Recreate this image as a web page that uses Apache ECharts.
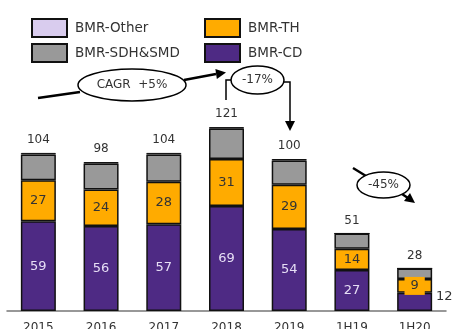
<!DOCTYPE html>
<html>
<head>
<meta charset="utf-8">
<script src="https://cdn.jsdelivr.net/npm/echarts@6/dist/echarts.min.js"></script>
<style>
  html, body { margin: 0; padding: 0; background: #fff; }
  #chart { width: 457px; height: 329px; }
</style>
</head>
<body>
<div id="chart"></div>
<script>
// data
var categories = ['2015', '2016', '2017', '2018', '2019', '1H19', '1H20'];
var bmrCD = [59, 56, 57, 69, 54, 27, 12];
var bmrTH = [27, 24, 28, 31, 29, 14, 9];
var bmrSDH = [17, 17, 18, 20, 16, 10, 7];
var bmrOther = [1, 1, 1, 1, 1, 0, 0];
var totals = [104, 98, 104, 121, 100, 51, 28];

var FONT = 'DejaVu Sans';
var border = { borderColor: '#111', borderWidth: 1.5 };

function legendAt(name, left, top) {
  return {
    data: [name], left: left, top: top, icon: 'rect', itemWidth: 35, itemHeight: 18, itemGap: 0,
    textStyle: { fontFamily: FONT, fontSize: 13.5, color: '#333', padding: [0, 0, 0, 3] },
    selectedMode: false
  };
}

function arrowLine(x1, y1, x2, y2) {
  return {
    type: 'line',
    shape: { x1: x1, y1: y1, x2: x2, y2: y2 },
    style: { stroke: '#000', lineWidth: 2.5 }
  };
}
function arrowHead(x, y, angle) {
  // small triangle pointing along angle (radians)
  var len = 10, w = 5;
  var bx = x - len * Math.cos(angle), by = y - len * Math.sin(angle);
  var px = -Math.sin(angle) * w, py = Math.cos(angle) * w;
  return {
    type: 'polygon',
    shape: { points: [[x, y], [bx + px, by + py], [bx - px, by - py]] },
    style: { fill: '#000' }
  };
}
function bubble(cx, cy, rx, ry, text) {
  return {
    type: 'group',
    children: [
      { type: 'ellipse', shape: { cx: cx, cy: cy, rx: rx, ry: ry },
        style: { fill: '#fff', stroke: '#000', lineWidth: 1.5 } },
      { type: 'text', x: cx, y: cy,
        style: { text: text, fontFamily: FONT, fontSize: 12, fill: '#333', align: 'center', verticalAlign: 'middle' } }
    ]
  };
}

var chart = echarts.init(document.getElementById('chart'));
var option = {
  animation: false,
  legend: [
    legendAt('BMR-Other', 26, 13),
    legendAt('BMR-TH', 199, 13),
    legendAt('BMR-SDH&SMD', 26, 38),
    legendAt('BMR-CD', 199, 38)
  ],
  grid: { left: 7, right: 11, top: 113.4, bottom: 18, containLabel: false, outerBoundsMode: 'none' },
  xAxis: {
    type: 'category',
    data: categories,
    axisLine: { lineStyle: { color: '#777', width: 1.5 } },
    axisTick: { show: false },
    axisLabel: { fontFamily: FONT, fontSize: 12, color: '#333', margin: 11 }
  },
  yAxis: { type: 'value', min: 0, max: 130, show: false, splitLine: { show: false } },
  series: [
    {
      name: 'BMR-CD', type: 'bar', stack: 'a', barWidth: 35,
      itemStyle: Object.assign({ color: '#4e2a84' }, border),
      label: { show: true, position: 'inside', fontFamily: FONT, fontSize: 13, color: '#e6def5',
        formatter: function (p) { return p.dataIndex === 6 ? '' : p.value; } },
      data: bmrCD
    },
    {
      name: 'BMR-TH', type: 'bar', stack: 'a',
      itemStyle: Object.assign({ color: '#ffab00' }, border),
      label: { show: true, position: 'inside', fontFamily: FONT, fontSize: 13, color: '#333' },
      data: bmrTH.map(function (v, i) {
        if (i === 6) {
          return { value: v, label: { backgroundColor: '#ffab00', padding: [3, 6, 2, 6] } };
        }
        return v;
      })
    },
    {
      name: 'BMR-SDH&SMD', type: 'bar', stack: 'a',
      itemStyle: Object.assign({ color: '#999999' }, border),
      data: bmrSDH
    },
    {
      name: 'BMR-Other', type: 'bar', stack: 'a',
      itemStyle: { color: '#d9ccee', borderColor: '#111', borderWidth: 1 },
      data: bmrOther
    },
    {
      name: 'total', type: 'bar', stack: 'a',
      itemStyle: { color: 'transparent', borderWidth: 0 },
      label: { show: true, position: 'top', distance: 7, fontFamily: FONT, fontSize: 12, color: '#333',
        formatter: function (p) { return totals[p.dataIndex]; } },
      data: totals.map(function () { return 0; })
    }
  ],
  graphic: [
    // CAGR arrow
    arrowLine(38, 98, 80, 92),
    arrowLine(184, 80, 216, 74),
    arrowHead(226, 72.5, Math.atan2(-1.5, 10)),
    bubble(132, 85, 54, 16, 'CAGR  +5%'),
    // -17% bracket
    { type: 'polyline', shape: { points: [[226, 100], [226, 80], [232, 80]] }, style: { stroke: '#000', lineWidth: 1.5, fill: null } },
    { type: 'polyline', shape: { points: [[283, 82], [290, 82], [290, 122]] }, style: { stroke: '#000', lineWidth: 1.5, fill: null } },
    arrowHead(290, 131, Math.PI / 2),
    bubble(257.5, 80, 26.5, 14, '-17%'),
    // -45% arrow
    arrowLine(353, 168, 366, 176),
    arrowLine(402, 194, 408, 198),
    arrowHead(415, 203, Math.atan2(6, 8)),
    bubble(383.5, 185, 26.5, 13, '-45%'),
    // 1H20 CD label outside the bar
    { type: 'line', shape: { x1: 422, y1: 304, x2: 430, y2: 298 }, style: { stroke: '#333', lineWidth: 1 } },
    { type: 'text', x: 436, y: 297, style: { text: '12', fontFamily: FONT, fontSize: 13, fill: '#333', verticalAlign: 'middle' } }
  ]
};
chart.setOption(option);
</script>
</body>
</html>
